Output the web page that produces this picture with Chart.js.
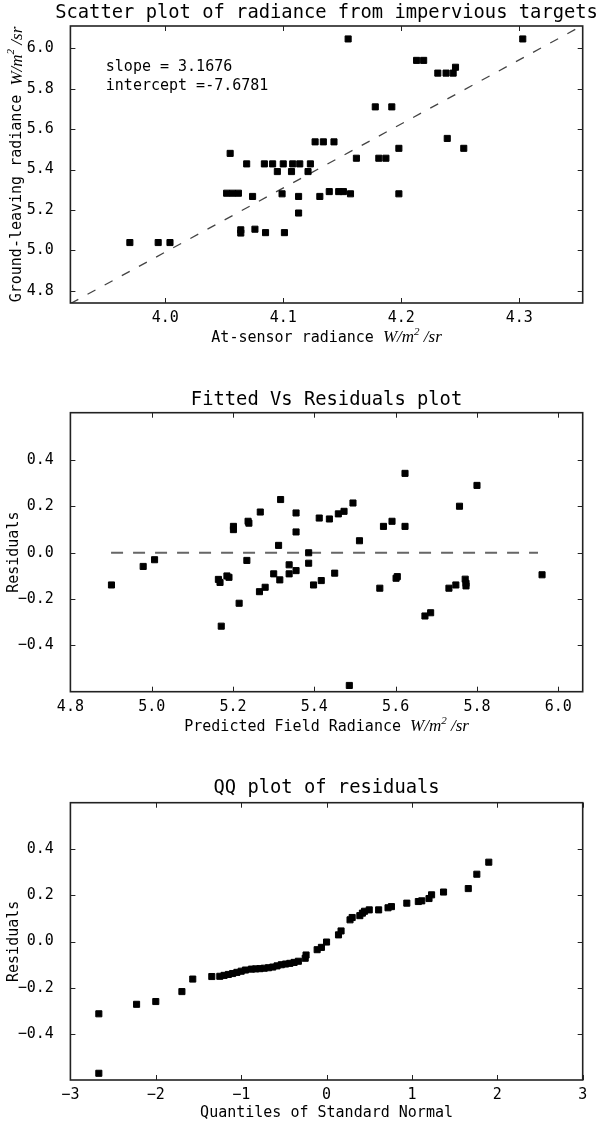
<!DOCTYPE html>
<html>
<head>
<meta charset="utf-8">
<title>Impervious targets - radiance regression</title>
<script src="https://cdn.jsdelivr.net/npm/chart.js@4/dist/chart.umd.min.js"></script>
<style>
  body { margin: 0; background: #fff; }
  .panel { position: absolute; left: 0; width: 604px; }
  #p1 { top: 0; height: 350px; }
  #p2 { top: 380px; height: 360px; }
  #p3 { top: 765px; height: 362px; }
</style>
</head>
<body>
<div class="panel" id="p1"><canvas id="scatter"></canvas></div>
<div class="panel" id="p2"><canvas id="fitted"></canvas></div>
<div class="panel" id="p3"><canvas id="qq"></canvas></div>
<script>
// --- scatter: at-sensor vs ground-leaving radiance ---
const sensorRad = [
  4.155, 4.303, 4.213, 4.219, 4.231, 4.238, 4.244, 4.246,
  4.178, 4.192, 4.239, 4.198, 4.253, 4.162, 4.181, 4.187,
  4.055, 4.127, 4.134, 4.143,
  4.069, 4.084, 4.091, 4.100, 4.108, 4.114, 4.123,
  4.095, 4.107, 4.121,
  4.052, 4.057, 4.062, 4.099, 4.157, 4.198, 4.139, 4.147, 4.151,
  4.074, 4.113, 4.131, 4.113,
  4.064, 4.064, 4.076, 4.085, 4.101,
  3.970, 3.994, 4.004,
];
const groundRad = [
  6.046, 6.046, 5.940, 5.940, 5.877, 5.877, 5.877, 5.906,
  5.710, 5.710, 5.554, 5.505, 5.505, 5.456, 5.456, 5.456,
  5.480, 5.537, 5.537, 5.537,
  5.428, 5.428, 5.428, 5.428, 5.428, 5.428, 5.428,
  5.390, 5.390, 5.390,
  5.283, 5.283, 5.283, 5.280, 5.280, 5.280, 5.291, 5.291, 5.291,
  5.267, 5.267, 5.267, 5.185,
  5.102, 5.086, 5.105, 5.088, 5.088,
  5.039, 5.039, 5.039,
];
const fitLineX = [3.9196, 4.3538];
const fitLineY = [4.737, 6.113];
const scatterXTicks = [4.0, 4.1, 4.2, 4.3];
const scatterYTicks = [4.8, 5.0, 5.2, 5.4, 5.6, 5.8, 6.0];

// --- fitted vs residuals ---
const fittedVals = [
  5.623, 5.800, 5.757, 5.317, 5.201, 5.201, 5.237, 5.239, 5.267, 5.355, 5.355,
  5.312, 5.386, 5.412, 5.437, 5.459, 5.473, 5.495, 5.511, 5.570, 5.591, 5.623,
  4.901, 4.979, 5.007, 5.164, 5.168, 5.185, 5.190, 5.171, 5.215, 5.234, 5.265,
  5.279, 5.300, 5.315, 5.338, 5.338, 5.355, 5.386, 5.398, 5.417, 5.450, 5.486,
  5.561, 5.601, 5.604, 5.672, 5.686, 5.731, 5.748, 5.771, 5.773, 5.773, 5.960,
];
const residVals = [
  0.343, 0.291, 0.201, 0.230, 0.114, 0.100, 0.136, 0.128, 0.176, 0.172, 0.090,
  0.032, 0.000, 0.150, 0.146, 0.168, 0.179, 0.215, 0.052, 0.114, 0.136, 0.114,
  -0.139, -0.059, -0.030, -0.115, -0.128, -0.100, -0.106, -0.317, -0.218, -0.033, -0.168,
  -0.149, -0.091, -0.117, -0.052, -0.091, -0.077, -0.045, -0.139, -0.120, -0.088, -0.573,
  -0.153, -0.110, -0.103, -0.273, -0.259, -0.153, -0.139, -0.114, -0.132, -0.143, -0.095,
];
const zeroLineX = [4.90, 5.95];
const zeroLineY = [0, 0];
const fittedXTicks = [4.8, 5.0, 5.2, 5.4, 5.6, 5.8, 6.0];
const residYTicks = [-0.4, -0.2, 0.0, 0.2, 0.4];

// --- QQ plot ---
const qqTheory = [
  -2.667, -2.667, -2.225, -2.0, -1.694, -1.567, -1.344,
  -1.25, -1.20, -1.15, -1.10, -1.05, -1.00, -0.95,
  -0.88, -0.83, -0.78, -0.73, -0.68, -0.63,
  -0.58, -0.53, -0.48, -0.43, -0.38, -0.33,
  -0.25, -0.24, -0.11, -0.06, 0.0,
  0.14, 0.17, 0.275, 0.30, 0.39, 0.42, 0.445, 0.50, 0.61, 0.72, 0.76,
  0.94, 1.075, 1.115, 1.20, 1.23, 1.37, 1.66, 1.76, 1.90,
];
const qqResid = [
  -0.569, -0.312, -0.271, -0.259, -0.216, -0.162, -0.151,
  -0.150, -0.146, -0.142, -0.138, -0.133, -0.128, -0.123,
  -0.119, -0.118, -0.117, -0.115, -0.113, -0.110,
  -0.105, -0.100, -0.097, -0.094, -0.090, -0.085,
  -0.072, -0.058, -0.035, -0.025, -0.002,
  0.029, 0.046, 0.094, 0.104, 0.112, 0.123, 0.131, 0.137, 0.137, 0.146, 0.151,
  0.166, 0.173, 0.176, 0.186, 0.202, 0.214, 0.229, 0.291, 0.343,
];
const qqXTicks = [-3, -2, -1, 0, 1, 2, 3];

const MONO = "'DejaVu Sans Mono', monospace";
const MATH = "italic 17px 'Liberation Serif', serif";
const MATH_SUP = "italic 11px 'Liberation Serif', serif";
const LABEL = "15px " + MONO;

const toPoints = (xs, ys) => xs.map((x, i) => ({ x: x, y: ys[i] }));
const fmt1 = (v) => v.toFixed(1).replace("-", "\u2212");
const fmt0 = (v) => String(Math.round(v)).replace("-", "\u2212");

function unitParts(prefix) {
  return [
    { text: prefix, font: LABEL },
    { text: "W/m", font: MATH },
    { text: "2", font: MATH_SUP, rise: 6 },
    { text: " /sr", font: MATH },
  ];
}

// draws a run of text pieces with different fonts, centred on cx
function drawParts(ctx, parts, cx, cy) {
  let total = 0;
  parts.forEach((p) => {
    ctx.font = p.font;
    total += ctx.measureText(p.text).width;
  });
  let x = cx - total / 2;
  ctx.textAlign = "left";
  ctx.textBaseline = "middle";
  parts.forEach((p) => {
    ctx.font = p.font;
    ctx.fillText(p.text, x, cy - (p.rise || 0));
    x += ctx.measureText(p.text).width;
  });
}

const framePlugin = {
  id: "frame",
  afterDraw(chart, args, opts) {
    const { ctx, chartArea: a, scales } = chart;
    ctx.save();
    ctx.fillStyle = "#000";

    // inward tick marks, all four sides
    ctx.strokeStyle = "#222";
    ctx.lineWidth = 1;
    ctx.beginPath();
    scales.x.ticks.forEach((t) => {
      const px = Math.round(scales.x.getPixelForValue(t.value)) + 0.5;
      ctx.moveTo(px, a.bottom); ctx.lineTo(px, a.bottom - 5);
      ctx.moveTo(px, a.top); ctx.lineTo(px, a.top + 5);
    });
    scales.y.ticks.forEach((t) => {
      const py = Math.round(scales.y.getPixelForValue(t.value)) + 0.5;
      ctx.moveTo(a.left, py); ctx.lineTo(a.left + 5, py);
      ctx.moveTo(a.right, py); ctx.lineTo(a.right - 5, py);
    });
    ctx.stroke();

    ctx.strokeStyle = "#222";
    ctx.lineWidth = 1.6;
    ctx.strokeRect(a.left, a.top, a.width, a.height);

    const cx = (a.left + a.right) / 2;
    ctx.font = "18.8px " + MONO;
    ctx.textAlign = "center";
    ctx.textBaseline = "middle";
    ctx.fillText(opts.title, cx, opts.titleY);

    drawParts(ctx, opts.xTitle, cx, opts.xTitleY);

    ctx.save();
    ctx.translate(opts.yTitleX, (a.top + a.bottom) / 2);
    ctx.rotate(-Math.PI / 2);
    drawParts(ctx, opts.yTitle, 0, 0);
    ctx.restore();

    (opts.notes || []).forEach((n) => {
      ctx.font = LABEL;
      ctx.textAlign = "left";
      ctx.fillText(n.text, scales.x.getPixelForValue(n.x), scales.y.getPixelForValue(n.y));
    });
    ctx.restore();
  },
};

function makePlot(id, cfg) {
  const tickFont = { family: MONO, size: 15 };
  return new Chart(document.getElementById(id), {
    type: "scatter",
    data: {
      datasets: [
        {
          data: cfg.points,
          pointStyle: "rect",
          pointRadius: 4.3,
          backgroundColor: "#000",
          borderColor: "#000",
          borderWidth: 1,
        },
        {
          data: cfg.line || [],
          showLine: true,
          pointRadius: 0,
          borderColor: cfg.lineColor || "#444",
          borderWidth: cfg.lineWidth || 1.3,
          borderDash: cfg.dash || [9, 10],
        },
      ],
    },
    options: {
      responsive: true,
      maintainAspectRatio: false,
      animation: false,
      events: [],
      layout: { padding: { left: 0, right: 21.3, top: cfg.padTop, bottom: 0 } },
      plugins: {
        legend: { display: false },
        tooltip: { enabled: false },
        frame: cfg.frame,
      },
      scales: {
        x: {
          type: "linear",
          min: cfg.xMin,
          max: cfg.xMax,
          grid: { display: false },
          border: { display: false },
          ticks: { font: tickFont, color: "#000", padding: -1.5, maxRotation: 0, autoSkip: false, callback: cfg.xFmt },
          afterBuildTicks: (s) => { s.ticks = cfg.xTicks.map((v) => ({ value: v })); },
          afterFit: (s) => { s.height = cfg.xAxisH; },
        },
        y: {
          type: "linear",
          min: cfg.yMin,
          max: cfg.yMax,
          grid: { display: false },
          border: { display: false },
          ticks: { font: tickFont, color: "#000", padding: 8.5, autoSkip: false, callback: fmt1 },
          afterBuildTicks: (s) => { s.ticks = cfg.yTicks.map((v) => ({ value: v })); },
          afterFit: (s) => { s.width = 70.4; },
        },
      },
    },
    plugins: [framePlugin],
  });
}

makePlot("scatter", {
  points: toPoints(sensorRad, groundRad),
  line: toPoints(fitLineX, fitLineY),
  dash: [9, 10.5],
  xMin: 3.9196, xMax: 4.3538, yMin: 4.74, yMax: 6.11,
  xTicks: scatterXTicks, yTicks: scatterYTicks, xFmt: fmt1,
  padTop: 26, xAxisH: 47,
  frame: {
    title: "Scatter plot of radiance from impervious targets",
    titleY: 12.7,
    xTitle: unitParts("At-sensor radiance "),
    xTitleY: 338,
    yTitle: unitParts("Ground-leaving radiance "),
    yTitleX: 17.5,
    notes: [
      { text: "slope = 3.1676", x: 3.9496, y: 5.906 },
      { text: "intercept =-7.6781", x: 3.9496, y: 5.812 },
    ],
  },
});

makePlot("fitted", {
  points: toPoints(fittedVals, residVals),
  line: toPoints(zeroLineX, zeroLineY),
  lineColor: "#666", lineWidth: 2, dash: [12, 10],
  xMin: 4.8, xMax: 6.06, yMin: -0.6, yMax: 0.605,
  xTicks: fittedXTicks, yTicks: residYTicks, xFmt: fmt1,
  padTop: 32.7, xAxisH: 48.3,
  frame: {
    title: "Fitted Vs Residuals plot",
    titleY: 20,
    xTitle: unitParts("Predicted Field Radiance "),
    xTitleY: 346.7,
    yTitle: [{ text: "Residuals", font: LABEL }],
    yTitleX: 14.6,
  },
});

makePlot("qq", {
  points: toPoints(qqTheory, qqResid),
  xMin: -3, xMax: 3, yMin: -0.598, yMax: 0.6,
  xTicks: qqXTicks, yTicks: residYTicks, xFmt: fmt0,
  padTop: 37.7, xAxisH: 47,
  frame: {
    title: "QQ plot of residuals",
    titleY: 23,
    xTitle: [{ text: "Quantiles of Standard Normal", font: LABEL }],
    xTitleY: 348,
    yTitle: [{ text: "Residuals", font: LABEL }],
    yTitleX: 14.6,
  },
});
</script>
</body>
</html>
